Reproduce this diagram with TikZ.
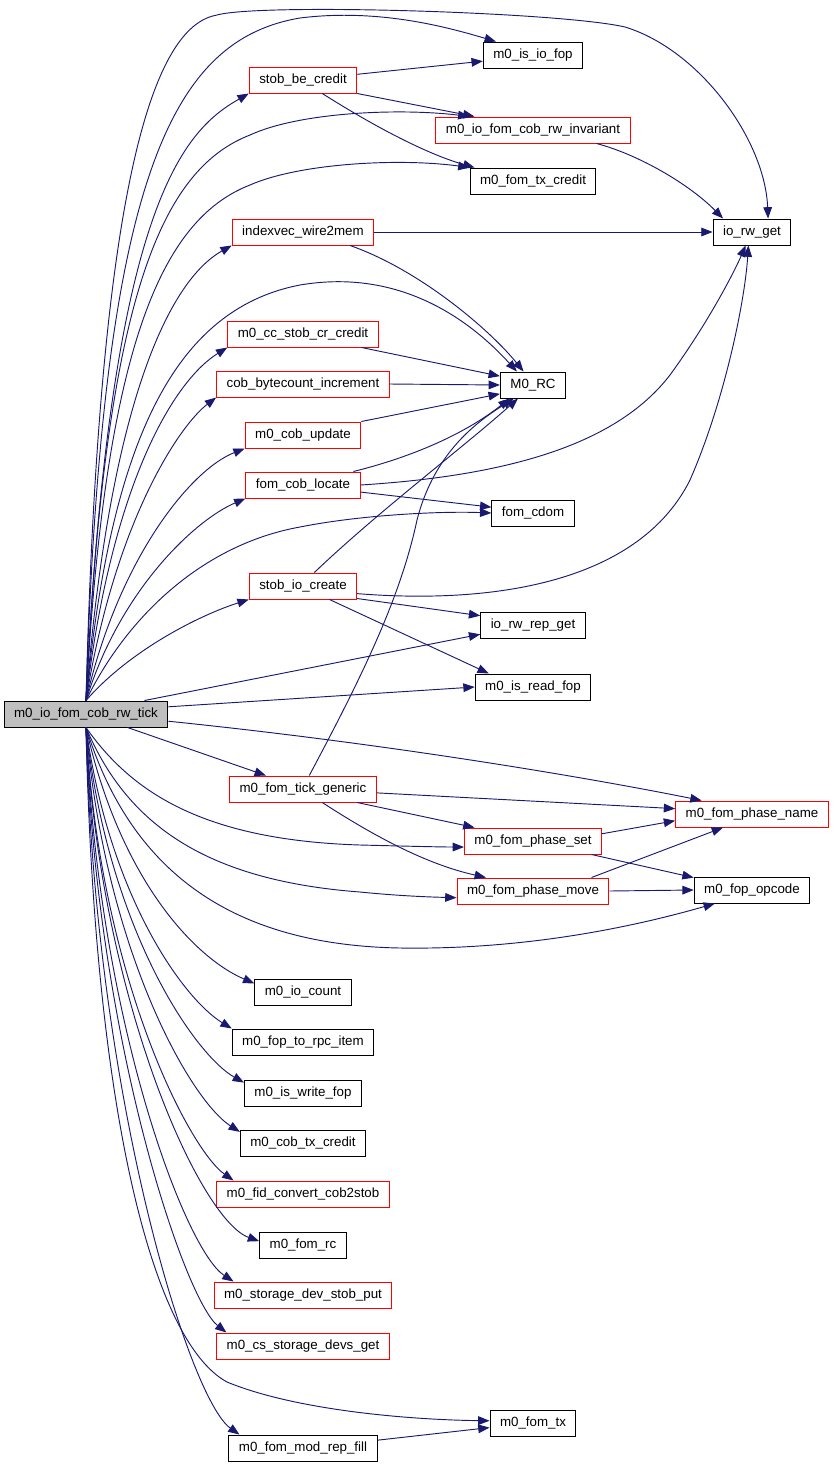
\documentclass[tikz,border=0pt]{standalone}
\usepackage{fontspec}
\setmainfont{Liberation Sans}
\usetikzlibrary{arrows.meta}
\definecolor{navy}{HTML}{191970}
\begin{document}
\begin{tikzpicture}[x=0.75pt,y=-0.75pt,>={Triangle[length=8.5pt,width=6.5pt]},
    fn/.style={draw,fill=white,line width=0.75pt,minimum height=19.5pt,inner xsep=7.5pt,inner ysep=0pt,font=\fontsize{10}{12}\selectfont},
    fnr/.style={fn,draw=red},
    call/.style={->,draw=navy,line width=0.7pt}]
\useasboundingbox (0,0) rectangle (833,1467);
\node[fn,fill=gray!50](tick) at (86,714){m0\_io\_fom\_cob\_rw\_tick};
\node[fnr](sbc) at (303,80){stob\_be\_credit};
\node[fn](isio) at (533,55){m0\_is\_io\_fop};
\node[fnr](inv) at (533,130){m0\_io\_fom\_cob\_rw\_invariant};
\node[fn](txc) at (533,181){m0\_fom\_tx\_credit};
\node[fnr](iw2m) at (303,232){indexvec\_wire2mem};
\node[fn](rwget) at (752,232){io\_rw\_get};
\node[fnr](cccr) at (303,334){m0\_cc\_stob\_cr\_credit};
\node[fn](rc) at (533,385){M0\_RC};
\node[fnr](bci) at (303,384){cob\_bytecount\_increment};
\node[fnr](cupd) at (303,435){m0\_cob\_update};
\node[fnr](cloc) at (303,485){fom\_cob\_locate};
\node[fn](cdom) at (533,513){fom\_cdom};
\node[fnr](sioc) at (303,586){stob\_io\_create};
\node[fn](rrget) at (533,625){io\_rw\_rep\_get};
\node[fn](isrd) at (533,687){m0\_is\_read\_fop};
\node[fnr](tgen) at (303,789){m0\_fom\_tick\_generic};
\node[fnr](pname) at (752,814){m0\_fom\_phase\_name};
\node[fnr](pset) at (533,841){m0\_fom\_phase\_set};
\node[fnr](pmove) at (533,891){m0\_fom\_phase\_move};
\node[fn](opc) at (752,890){m0\_fop\_opcode};
\node[fn](ioc) at (303,992){m0\_io\_count};
\node[fn](rpci) at (303,1042){m0\_fop\_to\_rpc\_item};
\node[fn](iswr) at (303,1093){m0\_is\_write\_fop};
\node[fn](ctxc) at (303,1143){m0\_cob\_tx\_credit};
\node[fnr](fidc) at (303,1194){m0\_fid\_convert\_cob2stob};
\node[fn](frc) at (303,1245){m0\_fom\_rc};
\node[fnr](sdsp) at (303,1295){m0\_storage\_dev\_stob\_put};
\node[fnr](csdg) at (303,1346){m0\_cs\_storage\_devs\_get};
\node[fn](ftx) at (533,1423){m0\_fom\_tx};
\node[fn](mrf) at (303,1448){m0\_fom\_mod\_rep\_fill};
% upper fan
\draw[call](tick.north) .. controls (100,150) and (160,25) .. (217,15) .. controls (260,3) and (560,12) .. (625,27) .. controls (700,50) and (765,140) .. (rwget.40);
\draw[call](tick.north) .. controls (102,180) and (170,40) .. (300,18) .. controls (380,8) and (450,28) .. (isio.160);
\draw[call](tick.north) .. controls (110,200) and (185,130) .. (sbc.south west);
\draw[call](tick.north) .. controls (105,300) and (160,170) .. (250,135) .. controls (300,112) and (400,108) .. (inv.168);
\draw[call](tick.north) .. controls (105,350) and (160,220) .. (250,185) .. controls (300,163) and (400,158) .. (txc.north west);
\draw[call](tick.north) .. controls (110,400) and (170,280) .. (iw2m.south west);
\draw[call](tick.north) .. controls (110,450) and (170,310) .. (300,285) .. controls (400,268) and (470,320) .. (rc.140);
\draw[call](tick.north) .. controls (112,480) and (175,380) .. (cccr.south west);
\draw[call](tick.north) .. controls (115,520) and (180,425) .. (bci.south west);
\draw[call](tick.north) .. controls (118,560) and (190,470) .. (cupd.south west);
\draw[call](tick.north) .. controls (120,590) and (195,520) .. (cloc.south west);
\draw[call](tick.north) .. controls (125,620) and (200,545) .. (300,527) .. controls (360,515) and (440,511) .. (cdom.west);
\draw[call](tick.north) .. controls (130,650) and (200,615) .. (sioc.south west);
\draw[call](tick.13)--(rrget.190);
\draw[call](tick.5)--(isrd.west);
\draw[call](tick.-5) .. controls (400,745) and (600,780) .. (pname.165);
\draw[call](tick.-18)--(tgen.160);
% lower fan
\draw[call](tick.south) .. controls (130,790) and (200,840) .. (360,845) .. controls (400,846) and (440,847) .. (pset.185);
\draw[call](tick.south) .. controls (125,820) and (200,880) .. (360,892) .. controls (400,896) and (430,897) .. (pmove.185);
\draw[call](tick.south) .. controls (130,870) and (230,945) .. (400,948) .. controls (530,950) and (640,925) .. (opc.200);
\draw[call](tick.south) .. controls (120,880) and (195,958) .. (ioc.170);
\draw[call](tick.south) .. controls (110,900) and (185,1000) .. (rpci.north west);
\draw[call](tick.south) .. controls (108,930) and (195,1055) .. (iswr.170);
\draw[call](tick.south) .. controls (105,950) and (190,1100) .. (ctxc.170);
\draw[call](tick.south) .. controls (100,980) and (190,1150) .. (fidc.169);
\draw[call](tick.south) .. controls (100,1000) and (200,1220) .. (frc.175);
\draw[call](tick.south) .. controls (98,1020) and (185,1250) .. (sdsp.169);
\draw[call](tick.south) .. controls (96,1040) and (185,1300) .. (csdg.170);
\draw[call](tick.south) .. controls (94,1100) and (150,1340) .. (227,1382) .. controls (300,1412) and (420,1420) .. (ftx.177);
\draw[call](tick.south) .. controls (95,1100) and (190,1400) .. (mrf.168);
% callees
\draw[call](sbc.6)--(isio.187);
\draw[call](sbc.south east)--(inv.167);
\draw[call](sbc.-35) .. controls (380,130) and (430,155) .. (txc.167);
\draw[call](inv.-12) .. controls (640,155) and (690,185) .. (rwget.155);
\draw[call](iw2m.east)--(rwget.west);
\draw[call](iw2m.-16) .. controls (420,270) and (490,330) .. (rc.125);
\draw[call](cccr.-13)--(rc.165);
\draw[call](bci.east)--(rc.west);
\draw[call](cupd.north east)--(rc.195);
\draw[call](cloc.15) .. controls (420,455) and (470,430) .. (rc.210);
\draw[call](cloc.east) .. controls (520,475) and (620,440) .. (670,375) .. controls (710,320) and (735,270) .. (rwget.245);
\draw[call](cloc.-7)--(cdom.172);
\draw[call](sioc.50) .. controls (380,510) and (460,450) .. (rc.222);
\draw[call](sioc.-8) .. controls (500,605) and (640,580) .. (690,480) .. controls (725,400) and (745,300) .. (rwget.255);
\draw[call](sioc.-13)--(rrget.170);
\draw[call](sioc.-27)--(isrd.163);
\draw[call](tgen.65) .. controls (360,680) and (400,600) .. (417,520) .. controls (435,450) and (480,420) .. (rc.215);
\draw[call](tgen.-3)--(pname.176);
\draw[call](tgen.-14)--(pset.167);
\draw[call](tgen.-35) .. controls (380,840) and (430,865) .. (pmove.164);
\draw[call](pset.6)--(pname.185);
\draw[call](pset.-13)--(opc.168);
\draw[call](pmove.13)--(pname.205);
\draw[call](pmove.east)--(opc.west);
\draw[call](mrf.6)--(ftx.186);
\end{tikzpicture}
\end{document}
